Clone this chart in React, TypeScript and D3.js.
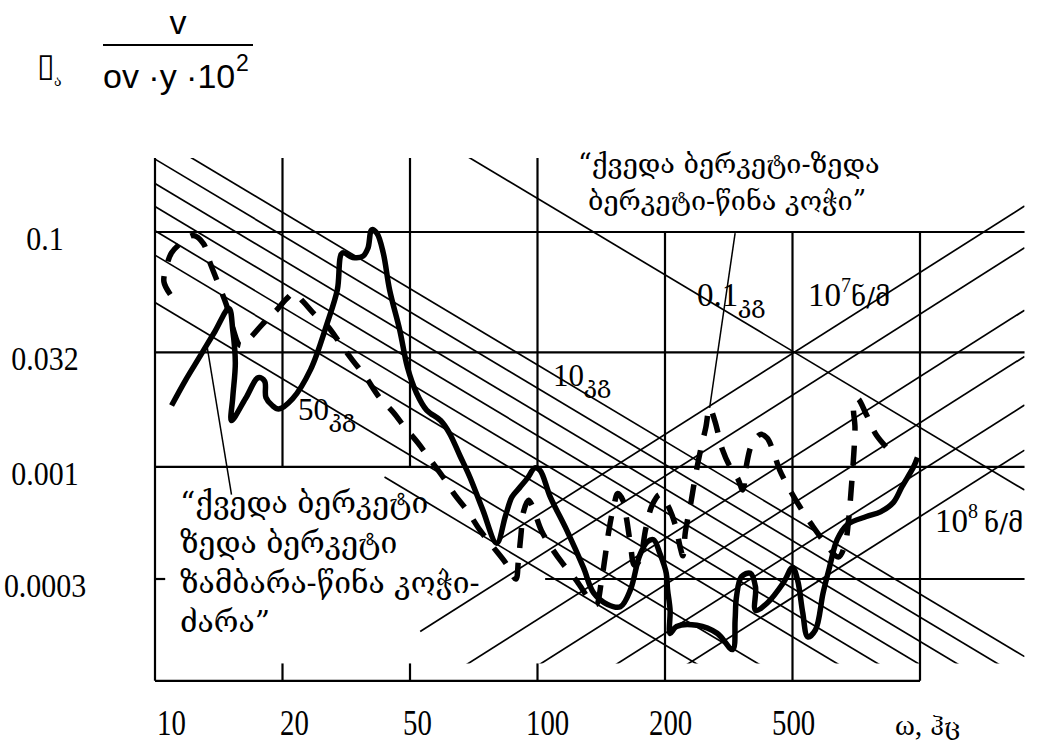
import React from "react";
import * as d3 from "d3";

// ---- data (grid units: u = frequency column index, v = amplitude row index) ----
const xTickLabels = ["10", "20", "50", "100", "200", "500"];
const yTickLabels = ["0.1", "0.032", "0.001", "0.0003"];
const yGridValues = [0, 1.04, 2.03, 3];

// "ქვედა ბერკეტი ზედა ბერკეტი ზამბარა-წინა კოჭი-ძარა" (solid)
const solidCurve: [number, number][] = [
  [0.13, 1.5], [0.24, 1.28], [0.35, 1.08], [0.47, 0.86], [0.58, 0.66], [0.61, 0.85], [0.63, 1.13],
  [0.61, 1.43], [0.6, 1.63], [0.71, 1.44], [0.81, 1.26], [0.86, 1.29], [0.87, 1.43], [0.92, 1.5],
  [0.97, 1.53], [1.08, 1.44], [1.22, 1.19], [1.35, 0.79], [1.43, 0.5], [1.47, 0.18], [1.55, 0.22],
  [1.63, 0.21], [1.67, 0.14], [1.7, -0.02], [1.74, 0.01], [1.79, 0.18], [1.84, 0.5], [1.92, 0.85],
  [1.98, 1.17], [2.05, 1.39], [2.13, 1.54], [2.24, 1.63], [2.31, 1.74], [2.39, 1.93], [2.47, 2.12],
  [2.57, 2.4], [2.68, 2.69], [2.75, 2.45], [2.8, 2.29], [2.86, 2.21], [2.92, 2.13], [2.98, 2.04],
  [3.02, 2.06], [3.1, 2.29], [3.23, 2.58], [3.36, 2.9], [3.44, 3.12], [3.55, 3.22], [3.65, 3.24],
  [3.73, 3.09], [3.8, 2.8], [3.86, 2.68], [3.91, 2.66], [3.96, 2.78], [4.01, 2.95], [4.02, 3.09],
  [4.04, 3.27], [4.04, 3.47], [4.09, 3.41], [4.25, 3.4], [4.41, 3.47], [4.53, 3.61], [4.55, 3.35],
  [4.56, 3.16], [4.6, 2.98], [4.67, 2.95], [4.71, 3.07], [4.71, 3.27], [4.8, 3.21], [4.93, 3.03],
  [5.0, 2.9], [5.04, 3.01], [5.08, 3.29], [5.12, 3.5], [5.18, 3.44], [5.24, 3.12], [5.29, 2.9],
  [5.35, 2.66], [5.43, 2.53], [5.58, 2.46], [5.69, 2.42], [5.79, 2.34], [5.86, 2.2], [5.95, 2.03],
  [5.98, 1.95],
];

// "ქვედა ბერკეტი-ზედა ბერკეტი-წინა კოჭი" (dashed)
const dashedCurve: [number, number][] = [
  [0.12, 0.54], [0.07, 0.43], [0.09, 0.3], [0.13, 0.18], [0.21, 0.09], [0.3, 0.03], [0.38, 0.1],
  [0.43, 0.26], [0.49, 0.43], [0.56, 0.63], [0.61, 0.83], [0.67, 0.98], [0.75, 0.91], [0.84, 0.8],
  [0.95, 0.68], [1.03, 0.58], [1.09, 0.53], [1.16, 0.6], [1.25, 0.71], [1.35, 0.81], [1.45, 0.96],
  [1.55, 1.11], [1.65, 1.25], [1.76, 1.43], [1.87, 1.56], [1.96, 1.69], [2.06, 1.82], [2.16, 1.97],
  [2.26, 2.12], [2.35, 2.27], [2.45, 2.41], [2.55, 2.58], [2.65, 2.72], [2.75, 2.86], [2.83, 3.0],
  [2.85, 2.84], [2.87, 2.62], [2.89, 2.42], [2.93, 2.32], [2.96, 2.37], [3.03, 2.58], [3.11, 2.73],
  [3.2, 2.87], [3.31, 3.02], [3.41, 3.18], [3.46, 3.22], [3.5, 3.03], [3.53, 2.81], [3.56, 2.58],
  [3.6, 2.36], [3.63, 2.26], [3.67, 2.32], [3.7, 2.49], [3.73, 2.71], [3.76, 2.88], [3.8, 2.84],
  [3.85, 2.56], [3.9, 2.36], [3.96, 2.27], [4.02, 2.36], [4.08, 2.53], [4.12, 2.73], [4.14, 2.8],
  [4.16, 2.59], [4.2, 2.36], [4.24, 2.1], [4.28, 1.88], [4.32, 1.69], [4.35, 1.52], [4.39, 1.63],
  [4.45, 1.88], [4.51, 2.03], [4.57, 2.13], [4.61, 2.23], [4.64, 2.01], [4.68, 1.84], [4.75, 1.75],
  [4.8, 1.78], [4.85, 1.9], [4.9, 2.06], [4.98, 2.23], [5.06, 2.38], [5.15, 2.53], [5.25, 2.68],
  [5.36, 2.81], [5.41, 2.71], [5.44, 2.49], [5.46, 2.23], [5.48, 1.93], [5.49, 1.69], [5.48, 1.5],
  [5.51, 1.44], [5.58, 1.58], [5.66, 1.76], [5.77, 1.9],
];

// constant-mass lines (descending): value of v at u = 0, and where each starts (u)
const massLineIntercepts = [-2.27, -0.83, -0.63, -0.42, -0.22, -0.01, 0.2, 0.61, 0.93];
const massLineStarts = [0, 0, 0, 0, 0, 0, 0, 0, 1.8];
// constant-stiffness lines (ascending)
const stiffLineIntercepts = [4.55, 4.91, 5.45, 5.85, 6.27, 6.66];
const stiffLineStarts = [2.71, 2.08, 0, 0, 0, 0];

// leader lines from annotations to curves
const leaderLower: [number, number][] = [[0.41, 1.0], [0.6, 2.27]];
const leaderUpper: [number, number][] = [[4.55, 0.01], [4.35, 1.52]];

const MASS_SLOPE = 0.66;
const STIFF_SLOPE = -0.7;
const U_RIGHT = 6.82;
const V_TOP = -0.64;
const V_LINES_BOTTOM = 3.73;
const V_AXIS = 3.88;

const GEO = "'DejaVu Serif', 'DejaVu Sans', serif";
const NUM = "'Liberation Serif', 'Times New Roman', serif";
const SANS = "'Liberation Sans', Arial, sans-serif";

export default function App() {
  const x = d3.scaleLinear().domain([0, 6]).range([155, 920]);
  const y = d3.scaleLinear().domain([0, 3]).range([232, 579]);
  const xl = d3.scaleLinear().domain([0, 6]).range([157, 895]);
  const curve = d3
    .line<[number, number]>()
    .x((d) => x(d[0]))
    .y((d) => y(d[1]))
    .curve(d3.curveCatmullRom.alpha(0.5));
  const straight = d3
    .line<[number, number]>()
    .x((d) => x(d[0]))
    .y((d) => y(d[1]));

  const gridW = 2.2;
  const diagW = 1.7;

  return (
    <svg
      width={1038}
      height={752}
      style={{ position: "absolute", left: 0, top: 0, background: "#fff" }}
    >
      <defs>
        <clipPath id="diagClip">
          <rect
            x={x(0)}
            y={y(V_TOP)}
            width={x(U_RIGHT) - x(0)}
            height={y(V_LINES_BOTTOM) - y(V_TOP)}
          />
        </clipPath>
      </defs>
      <rect width={1038} height={752} fill="#fff" />

      {/* diagonal reference lines */}
      <g clipPath="url(#diagClip)" stroke="#000" strokeWidth={diagW} fill="none">
        {massLineIntercepts.map((c, i) => {
          const u0 = massLineStarts[i];
          const p: [number, number][] = [
            [u0, c + MASS_SLOPE * u0],
            [U_RIGHT, c + MASS_SLOPE * U_RIGHT],
          ];
          return <path key={"m" + i} d={straight(p) || ""} />;
        })}
        {stiffLineIntercepts.map((c, i) => {
          const u0 = stiffLineStarts[i];
          const p: [number, number][] = [
            [u0, c + STIFF_SLOPE * u0],
            [U_RIGHT, c + STIFF_SLOPE * U_RIGHT],
          ];
          return <path key={"s" + i} d={straight(p) || ""} />;
        })}
      </g>

      {/* grid */}
      <g stroke="#000" strokeWidth={gridW} fill="none">
        <line x1={x(0)} x2={x(0)} y1={y(V_TOP)} y2={y(V_AXIS)} />
        {[1, 2, 3].map((u) => (
          <line key={"vt" + u} x1={x(u)} x2={x(u)} y1={y(V_TOP)} y2={y(yGridValues[2])} />
        ))}
        {[4, 5, 6].map((u) => (
          <line key={"vb" + u} x1={x(u)} x2={x(u)} y1={y(yGridValues[0])} y2={y(V_AXIS)} />
        ))}
        {[1, 2, 3].map((u) => (
          <line key={"tk" + u} x1={x(u)} x2={x(u)} y1={y(V_LINES_BOTTOM)} y2={y(V_AXIS)} />
        ))}
        {yGridValues.slice(0, 3).map((v) => (
          <line key={"h" + v} x1={x(0)} x2={x(U_RIGHT)} y1={y(v)} y2={y(v)} />
        ))}
        <line x1={x(3.06)} x2={x(U_RIGHT)} y1={y(yGridValues[3])} y2={y(yGridValues[3])} />
        <line x1={x(0)} x2={x(0.08)} y1={y(yGridValues[3])} y2={y(yGridValues[3])} />
        <line x1={x(0)} x2={x(6)} y1={y(V_AXIS)} y2={y(V_AXIS)} />
      </g>

      {/* leader lines */}
      <g stroke="#000" strokeWidth={1.5}>
        <path d={straight(leaderLower) || ""} />
        <path d={straight(leaderUpper) || ""} />
      </g>

      {/* curves */}
      <path d={curve(dashedCurve) || ""} fill="none" stroke="#000" strokeWidth={5.5} strokeDasharray="20 15" />
      <path d={curve(solidCurve) || ""} fill="none" stroke="#000" strokeWidth={5.5} strokeLinejoin="round" />

      {/* header */}
      <text x={37} y={76} fontFamily="'DejaVu Sans'" fontSize={32}>▯</text>
      <text x={54} y={86} fontFamily={GEO} fontSize={14}>ა</text>
      <text x={178} y={34} textAnchor="middle" fontFamily={SANS} fontSize={34}>v</text>
      <line x1={103} x2={253} y1={45} y2={45} stroke="#000" strokeWidth={2} />
      <text x={103} y={88} fontFamily={SANS} fontSize={34}>
        ov ·y ·10
      </text>
      <text x={236} y={71} fontFamily={SANS} fontSize={23}>2</text>

      {/* y tick labels */}
      {yTickLabels.map((t, i) => (
        <text
          key={t}
          transform={`translate(45,${y(yGridValues[i]) + 18}) scale(0.88,1)`}
          textAnchor="middle"
          fontFamily={NUM}
          fontSize={34}
        >
          {t}
        </text>
      ))}

      {/* x tick labels */}
      {xTickLabels.map((t, i) => (
        <text key={t} transform={`translate(${xl(i)},735) scale(0.8,1)`} fontFamily={NUM} fontSize={36}>
          {t}
        </text>
      ))}
      <text transform={`translate(${xl(6)},735)`} fontFamily={NUM} fontSize={30}>
        ω,<tspan dx={8} fontFamily={GEO} fontSize={24}>ჰც</tspan>
      </text>

      {/* line labels */}
      <text x={298} y={420} fontFamily={NUM} fontSize={31}>
        50<tspan fontFamily={GEO} fontSize={24} dy={7}>კგ</tspan>
      </text>
      <text x={553} y={386} fontFamily={NUM} fontSize={31}>
        10<tspan fontFamily={GEO} fontSize={24} dy={7}>კგ</tspan>
      </text>
      <text x={697} y={306} fontFamily={NUM} fontSize={33}>
        0.1<tspan fontFamily={GEO} fontSize={24} dy={7}>კგ</tspan>
      </text>
      <text x={808} y={306} fontFamily={NUM} fontSize={33}>
        10<tspan fontSize={20} dy={-14}>7</tspan>
        <tspan fontFamily={GEO} fontSize={26} dy={14}>ნ/მ</tspan>
      </text>
      <text x={935} y={532} fontFamily={NUM} fontSize={33}>
        10<tspan fontSize={20} dy={-14}>8</tspan>
        <tspan fontFamily={GEO} fontSize={26} dy={14} dx={6}>ნ/მ</tspan>
      </text>

      {/* annotations */}
      <g fontFamily={GEO} fontSize={27}>
        <text x={578} y={173}>“ქვედა ბერკეტი-ზედა</text>
        <text x={588} y={210}>ბერკეტი-წინა კოჭი”</text>
      </g>
      <g fontFamily={GEO} fontSize={30}>
        <text x={180} y={513}>“ქვედა ბერკეტი</text>
        <text x={180} y={553}>ზედა ბერკეტი</text>
        <text x={180} y={593}>ზამბარა-წინა კოჭი-</text>
        <text x={180} y={632}>ძარა”</text>
      </g>
    </svg>
  );
}
